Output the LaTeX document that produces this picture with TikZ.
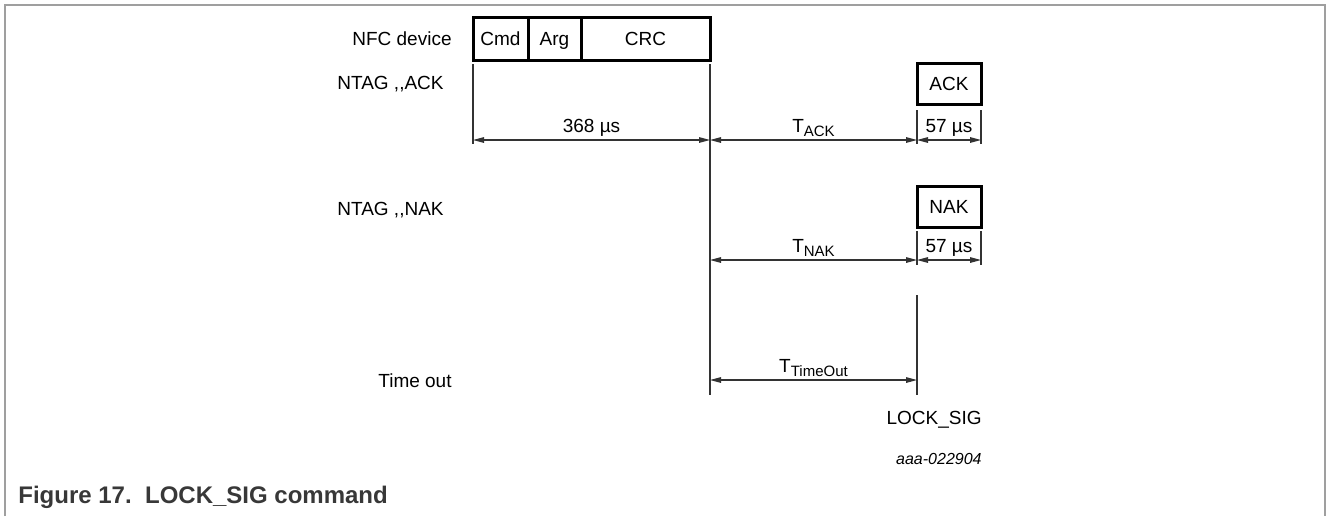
\documentclass[tikz,border=0pt]{standalone}
\usepackage{fontspec}
\setmainfont{Liberation Sans}
\usetikzlibrary{positioning,arrows.meta}
\newcommand{\tname}[1]{T\raisebox{-0.45ex}{\fontsize{7.5}{9}\selectfont #1}}

\begin{document}
\begin{tikzpicture}[x=0.5pt, y=-0.5pt, >={Triangle[length=5.5pt,width=2.8pt]},
    pkt/.style={draw, line width=1.5pt, outer sep=0pt, inner sep=0pt, minimum height=21.5pt, text height=7pt, text depth=0.2pt, font=\fontsize{9.5}{11}\selectfont},
    lbl/.style={anchor=east, inner sep=0pt, text height=7pt, text depth=0pt, font=\fontsize{9.5}{11}\selectfont},
    dim/.style={<->, line width=0.55pt, draw=black!80},
    tick/.style={line width=0.55pt, draw=black!80},
    dimtext/.style={above, inner sep=2.5pt, text height=7pt, text depth=1pt, font=\fontsize{9.5}{11}\selectfont}]
    \useasboundingbox (0,0) rectangle (1326,516);
    \draw[gray!75, line width=1pt] (5,516) -- (5,5) -- (1325,5) -- (1325,516);

    % left column
    \node[lbl] (nfc) at (452,38) {NFC device};
    \node[lbl] (ntagack) at (444,82) {NTAG ,\kern0pt,ACK};
    \node[lbl] (ntagnak) at (444,208) {NTAG ,\kern0pt,NAK};
    \node[lbl] (timeout) at (452,380) {Time out};

    % frames
    \node[pkt, minimum width=27.5pt, anchor=north west] (cmd) at (473,17) {Cmd};
    \node[pkt, minimum width=26.5pt, right=0pt of cmd] (arg) {Arg};
    \node[pkt, minimum width=64.5pt, right=0pt of arg] (crc) {CRC};
    \node[pkt, minimum width=32pt, minimum height=20.5pt, anchor=north west] (ack) at (917,63) {ACK};
    \node[pkt, minimum width=32pt, minimum height=20.5pt, anchor=north west] (nak) at (917,186) {NAK};

    \coordinate (ackrow) at (0,140);
    \coordinate (nakrow) at (0,260);
    \coordinate (outrow) at (0,380);
    \coordinate (sigtop) at (917,295);

    % time marks
    \draw[tick] ([yshift=-2pt]cmd.south west) -- ([yshift=-2pt]cmd.west |- ackrow);
    \draw[tick] ([yshift=-2pt]crc.south east) -- ([yshift=-7.5pt]crc.east |- outrow);
    \draw[tick] ([yshift=-3pt]ack.south west) -- ([yshift=-2pt]ack.west |- ackrow);
    \draw[tick] ([yshift=-3pt]ack.south east) -- ([yshift=-2pt]ack.east |- ackrow);
    \draw[tick] ([yshift=-2pt]nak.south west) -- ([yshift=-2.5pt]nak.west |- nakrow);
    \draw[tick] ([yshift=-2pt]nak.south east) -- ([yshift=-2.5pt]nak.east |- nakrow);
    \draw[tick] (sigtop) -- ([yshift=-7.5pt]nak.west |- outrow);

    % durations
    \draw[dim] (cmd.west |- ackrow) -- node[dimtext] {368 µs} (crc.east |- ackrow);
    \draw[dim] (crc.east |- ackrow) -- node[dimtext] {\tname{ACK}} (ack.west |- ackrow);
    \draw[dim] (ack.west |- ackrow) -- node[dimtext] {57 µs} (ack.east |- ackrow);
    \draw[dim] (crc.east |- nakrow) -- node[dimtext] {\tname{NAK}} (nak.west |- nakrow);
    \draw[dim] (nak.west |- nakrow) -- node[dimtext] {57 µs} (nak.east |- nakrow);
    \draw[dim] (crc.east |- outrow) -- node[dimtext] {\tname{TimeOut}} (nak.west |- outrow);

    \node[lbl] (locksig) at (982,417) {LOCK\_SIG};
    \node[lbl, text height=6pt, font=\itshape\fontsize{8}{10}\selectfont] (code) at (982,458) {aaa-022904};
    \node[anchor=west, inner sep=0pt, text=black!78, font=\bfseries\fontsize{12}{14}\selectfont] (caption) at (18,497) {Figure 17.\ \ LOCK\_SIG command};
\end{tikzpicture}
\end{document}
